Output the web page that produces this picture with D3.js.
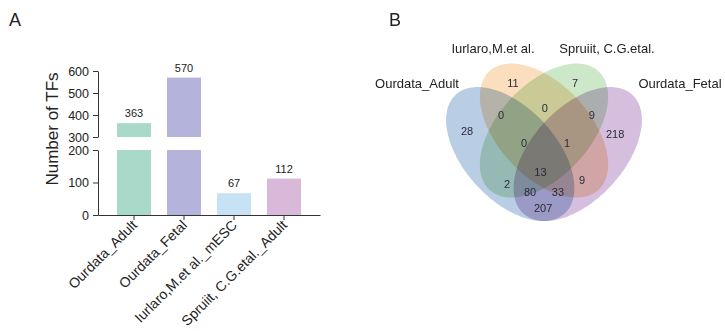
<!DOCTYPE html>
<html>
<head>
<meta charset="utf-8">
<script src="https://cdn.jsdelivr.net/npm/d3@7"></script>
<style>
  html, body { margin: 0; padding: 0; background: #fff; }
  svg { display: block; font-family: "Liberation Sans", Arial, Helvetica, sans-serif; }
</style>
</head>
<body>
<svg id="fig" width="725" height="331"></svg>
<script>
// ---- Panel A: number of TFs per dataset ----
const barCategories = ["Ourdata_Adult", "Ourdata_Fetal", "Iurlaro,M.et al._mESC", "Spruiit, C.G.etal._Adult"];
const barValues = [363, 570, 67, 112];
const barColors = ["#a9d9c9", "#b3b3dc", "#c7e2f4", "#d8b9d9"];
const lowerTicks = [0, 100, 200];
const upperTicks = [300, 400, 500, 600];

// ---- Panel B: four-set Venn ----
const vennSets = ["Ourdata_Adult", "Iurlaro,M.et al.", "Spruiit, C.G.etal.", "Ourdata_Fetal"];
const vennColors = ["#b9cde4", "#fadebe", "#cde8c8", "#d6bede"];
// region membership (A=Adult, B=Iurlaro, C=Spruiit, D=Fetal) and counts
const vennRegions = ["A", "B", "C", "D", "AB", "BC", "CD", "AC", "BD", "AD", "ABC", "BCD", "ACD", "ABD", "ABCD"];
const vennCounts  = [28, 11, 7, 218, 0, 0, 9, 2, 9, 207, 0, 1, 80, 33, 13];

const svg = d3.select("#fig");
const textColor = "#222";

// ===== Panel A =====
const gA = svg.append("g");
gA.append("text").attr("x", 9).attr("y", 26).attr("font-size", 18).attr("fill", textColor).text("A");

const x = d3.scaleBand().domain(barCategories).range([98, 320]).paddingInner(0.32).paddingOuter(0.38);
const yLow = d3.scaleLinear().domain([0, 200]).range([215, 150]);
const yHigh = d3.scaleLinear().domain([300, 600]).range([137, 71]);

// bars, split across the axis break
barCategories.forEach((c, i) => {
  const v = barValues[i];
  gA.append("rect")
    .attr("x", x(c)).attr("width", x.bandwidth())
    .attr("y", yLow(Math.min(v, 200)))
    .attr("height", yLow(0) - yLow(Math.min(v, 200)))
    .attr("fill", barColors[i]);
  if (v > 300) {
    gA.append("rect")
      .attr("x", x(c)).attr("width", x.bandwidth())
      .attr("y", yHigh(v))
      .attr("height", yHigh(300) - yHigh(v))
      .attr("fill", barColors[i]);
  }
  const topY = v > 300 ? yHigh(v) : yLow(v);
  gA.append("text")
    .attr("x", x(c) + x.bandwidth() / 2).attr("y", topY - 6)
    .attr("text-anchor", "middle").attr("font-size", 11).attr("fill", textColor)
    .text(v);
});

function styleAxis(g) {
  g.selectAll("path, line").attr("stroke", "#333").attr("stroke-width", 1);
  g.selectAll("text").attr("fill", textColor).attr("font-family", null);
}

gA.append("g").attr("transform", "translate(98,0)")
  .call(d3.axisLeft(yLow).tickValues(lowerTicks).tickSize(5).tickSizeOuter(0).tickPadding(4))
  .call(styleAxis)
  .call(g => g.selectAll("text").attr("font-size", 12.5));
gA.append("g").attr("transform", "translate(98,0)")
  .call(d3.axisLeft(yHigh).tickValues(upperTicks).tickSize(5).tickSizeOuter(0).tickPadding(4))
  .call(styleAxis)
  .call(g => g.selectAll("text").attr("font-size", 12.5));

gA.append("g").attr("transform", "translate(0,215)")
  .call(d3.axisBottom(x).tickSize(5).tickSizeOuter(0).tickFormat(""))
  .call(styleAxis);

// rotated category labels
barCategories.forEach(c => {
  const cx = x(c) + x.bandwidth() / 2;
  gA.append("text")
    .attr("transform", `translate(${cx + 4},${226}) rotate(-45)`)
    .attr("text-anchor", "end").attr("font-size", 14).attr("fill", textColor)
    .text(c);
});

gA.append("text")
  .attr("transform", "translate(58,129) rotate(-90)")
  .attr("text-anchor", "middle").attr("font-size", 17).attr("fill", textColor)
  .text("Number of TFs");

// ===== Panel B =====
const gB = svg.append("g").style("isolation", "isolate");
gB.append("text").attr("x", 389).attr("y", 26).attr("font-size", 18).attr("fill", textColor).text("B");

// unit-square layout for the classic four-ellipse Venn
const vx = d3.scaleLinear().domain([0, 1]).range([431.5, 656.5]);
const vy = d3.scaleLinear().domain([0, 1]).range([264.5, 29.5]);
const ellipses = [
  { cx: 0.35, cy: 0.47, a: 0.35, b: 0.2, rot: -45 },
  { cx: 0.50, cy: 0.57, a: 0.35, b: 0.2, rot: -45 },
  { cx: 0.50, cy: 0.57, a: 0.35, b: 0.2, rot: 45 },
  { cx: 0.65, cy: 0.47, a: 0.35, b: 0.2, rot: 45 }
];
const ellipsePath = e => {
  const r = e.rot * Math.PI / 180, pts = [];
  for (let k = 0; k <= 180; k++) {
    const t = k / 180 * 2 * Math.PI;
    const ux = e.a * Math.cos(t), uy = e.b * Math.sin(t);
    pts.push([vx(e.cx + ux * Math.cos(r) - uy * Math.sin(r)), vy(e.cy + ux * Math.sin(r) + uy * Math.cos(r))]);
  }
  return d3.line().curve(d3.curveLinearClosed)(pts);
};
ellipses.forEach((e, i) => {
  gB.append("path").attr("d", ellipsePath(e))
    .attr("fill", vennColors[i]).attr("stroke", "none")
    .style("mix-blend-mode", "multiply");
});

// label anchor of each region in the unit layout
const regionAnchor = {
  A: [0.158, 0.568], B: [0.362, 0.773], C: [0.638, 0.773], D: [0.816, 0.555],
  AB: [0.309, 0.634], BC: [0.504, 0.666], CD: [0.713, 0.634],
  AC: [0.336, 0.342], BD: [0.669, 0.359], AD: [0.496, 0.240],
  ABC: [0.411, 0.517], BCD: [0.602, 0.517], ACD: [0.438, 0.308], ABD: [0.562, 0.308],
  ABCD: [0.484, 0.394]
};
vennRegions.forEach((r, i) => {
  const [ux, uy] = regionAnchor[r];
  gB.append("text")
    .attr("x", vx(ux)).attr("y", vy(uy)).attr("dy", "0.36em")
    .attr("text-anchor", "middle").attr("font-size", 11).attr("fill", "#2a2a3a")
    .text(vennCounts[i]);
});

// set names
const setLabelPos = [[417, 83], [493, 48], [607, 48], [680, 83]];
vennSets.forEach((s, i) => {
  gB.append("text")
    .attr("x", setLabelPos[i][0]).attr("y", setLabelPos[i][1]).attr("dy", "0.36em")
    .attr("text-anchor", "middle").attr("font-size", 13).attr("fill", textColor)
    .text(s);
});
</script>
</body>
</html>
